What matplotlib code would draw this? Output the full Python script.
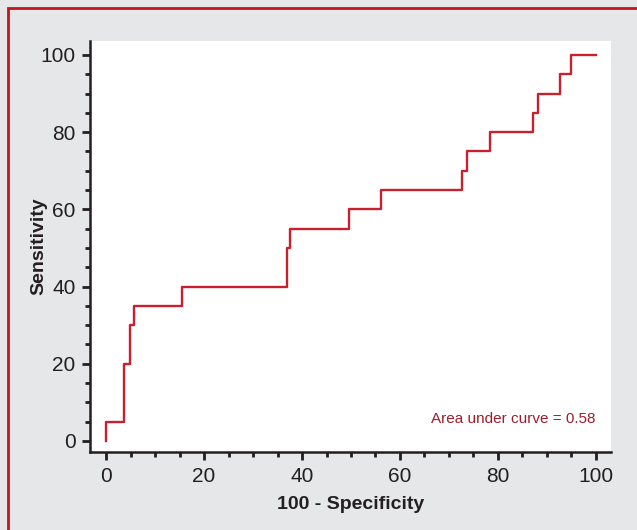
import numpy as np
import matplotlib
matplotlib.use('agg')
import matplotlib.pyplot as plt
from matplotlib.ticker import MultipleLocator
from matplotlib.patches import Rectangle

## Datos de la curva ROC
fpr = [0, 0, 3.7, 4.8, 5.7, 15.4, 36.9, 37.6, 49.5, 56.2, 72.7, 73.6, 78.4, 87.2, 88.1, 92.7, 94.9, 100]
tpr = [0, 5, 20, 30, 35, 40, 50, 55, 60, 65, 70, 75, 80, 85, 90, 95, 100, 100]
auc_text = 'Area under curve = 0.58'
Xlabel = '100 - Specificity'
Ylabel = 'Sensitivity'

plt.rcParams['font.family'] = ['Liberation Sans', 'DejaVu Sans']

fondo = '#e6e7e8'
rojo = '#c8202f'
negro = '#231f20'

fig = plt.figure(figsize=(6.37, 5.30), dpi=100, facecolor=fondo)
ax = fig.add_axes([90/637, 78/530, 521/637, 411/530])

# Marco rojo de la figura
fig.patches.append(Rectangle((8/637, -0.1), 1.2, (530-8)/530 + 0.1, transform=fig.transFigure,
                             fill=False, edgecolor='#c4161c', linewidth=2, zorder=0))

ax.plot(fpr, tpr, color=rojo, linewidth=1.7, drawstyle='steps-post')
ax.text(100, 5.7, auc_text, color='#a01c2a', fontsize=11, ha='right', va='center')

ax.set_xlim(-3.3, 103.1)
ax.set_ylim(-2.85, 103.6)
ax.xaxis.set_major_locator(MultipleLocator(20))
ax.xaxis.set_minor_locator(MultipleLocator(5))
ax.yaxis.set_major_locator(MultipleLocator(20))
ax.yaxis.set_minor_locator(MultipleLocator(5))

for s in ['top', 'right']:
    ax.spines[s].set_visible(False)
for s in ['left', 'bottom']:
    ax.spines[s].set_linewidth(1.8)
    ax.spines[s].set_color(negro)

ax.tick_params(which='major', length=6, width=2, color=negro, labelsize=15, labelcolor=negro, pad=4.5)
ax.tick_params(which='minor', length=3.5, width=2, color=negro)

ax.set_xlabel(Xlabel, fontsize=14, fontweight='bold', color=negro)
ax.set_ylabel(Ylabel, fontsize=14, fontweight='bold', color=negro)
ax.xaxis.set_label_coords(0.5, -0.106)
ax.yaxis.set_label_coords(-0.082, 0.5)

plt.savefig('out.png', dpi=100, facecolor=fondo)
